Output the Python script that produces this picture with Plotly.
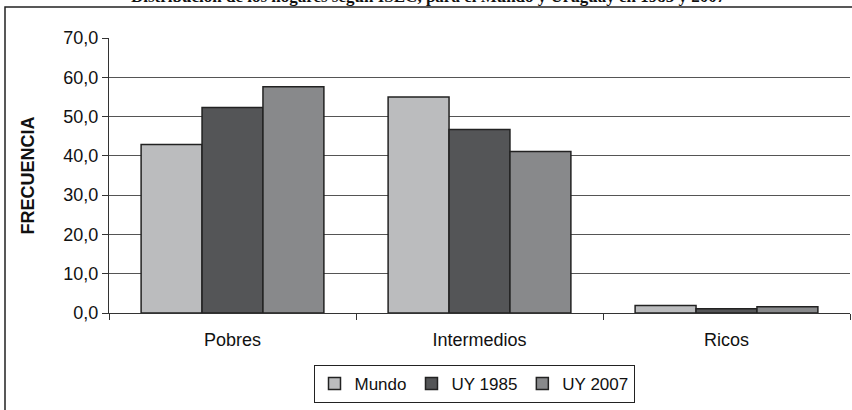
import plotly.graph_objects as go

categories = ["Pobres", "Intermedios", "Ricos"]
series_names = ["Mundo", "UY 1985", "UY 2007"]
mundo = [42.9, 55.0, 1.9]
uy_1985 = [52.3, 46.7, 1.1]
uy_2007 = [57.6, 41.1, 1.6]
series_values = [mundo, uy_1985, uy_2007]
colors = ["#BBBCBE", "#545557", "#88898B"]
y_ticks = [0, 10, 20, 30, 40, 50, 60, 70]
title_text = "Distribución de los hogares según ISEC, para el Mundo y Uruguay en 1985 y 2007"

fig = go.Figure()
for name, vals, col in zip(series_names, series_values, colors):
    fig.add_trace(go.Bar(
        x=categories, y=vals, name=name,
        marker=dict(color=col, line=dict(color="#222222", width=1.5)),
    ))

W, H = 852, 410
L, R, T, B = 109, 2, 38, 97
pw, ph = W - L - R, H - T - B

def px_x(x):
    return (x - L) / pw

def px_y(y):
    return 1 - (y - T) / ph

fig.update_layout(
    width=W, height=H,
    margin=dict(l=L, r=R, t=T, b=B),
    paper_bgcolor="white", plot_bgcolor="white",
    barmode="group", bargap=0.26, bargroupgap=0,
    separators=",.",
    font=dict(family="Liberation Sans, Arial, sans-serif", size=18, color="#111111"),
    showlegend=True,
    legend=dict(
        orientation="h", x=px_x(474), xanchor="center", y=px_y(365), yanchor="top",
        bordercolor="#222222", borderwidth=1, bgcolor="white",
        font=dict(size=17), traceorder="normal",
        itemclick=False, itemwidth=30,
    ),
    xaxis=dict(
        type="category", showline=True, linecolor="#333333", linewidth=1,
        ticks="outside", tickson="boundaries", ticklen=6, tickcolor="#333333",
        showgrid=False, tickfont=dict(size=18), ticklabelstandoff=10,
    ),
    yaxis=dict(
        range=[0, 70], tickvals=y_ticks, tickformat=".1f",
        showline=True, linecolor="#333333", linewidth=1,
        ticks="outside", ticklen=6, tickcolor="#333333",
        showgrid=True, gridcolor="#555555", gridwidth=1,
        zeroline=False, tickfont=dict(size=18),
        title=dict(text="<b>FRECUENCIA</b>", font=dict(size=18), standoff=24),
    ),
    shapes=[dict(
        type="rect", xref="paper", yref="paper",
        x0=px_x(5), x1=px_x(856), y0=px_y(420), y1=px_y(7),
        line=dict(color="#222222", width=1.5), fillcolor="rgba(0,0,0,0)", layer="below",
    )],
    annotations=[dict(
        text="<b>" + title_text + "</b>", xref="paper", yref="paper",
        x=px_x(428), y=px_y(8), xanchor="center", yanchor="bottom",
        showarrow=False, font=dict(family="Liberation Serif, Times New Roman, serif", size=17, color="#111111"),
    )],
)

fig.write_html(
    "out.html",
    config={"responsive": False, "displayModeBar": False},
    post_script="document.body.style.margin='0';document.body.style.overflow='hidden';",
)
